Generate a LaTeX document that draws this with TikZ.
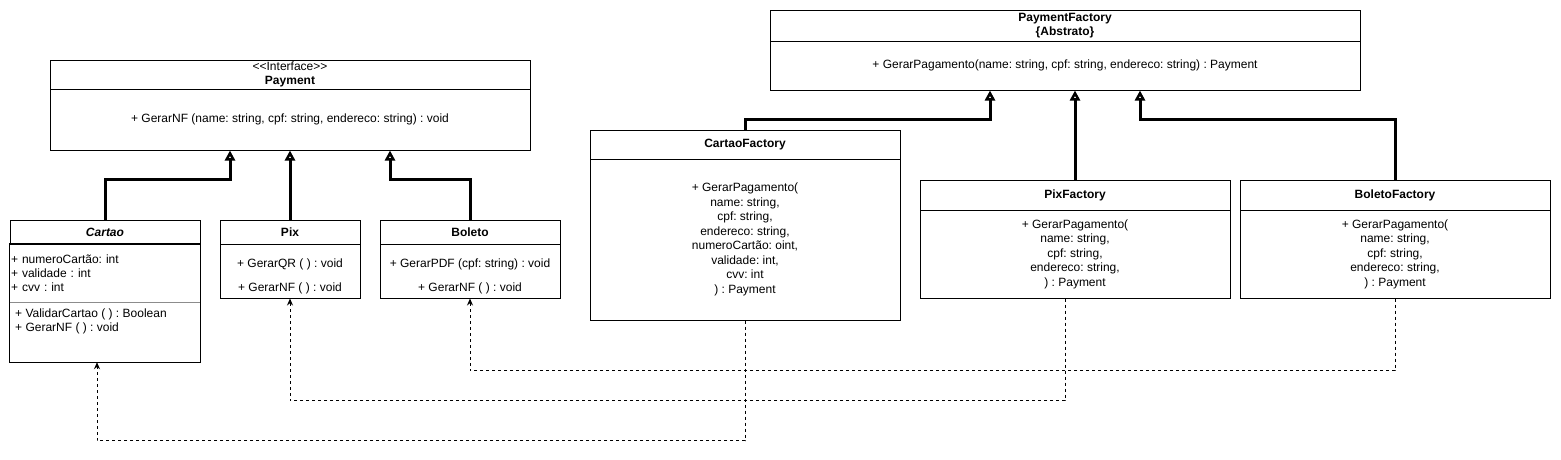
\documentclass[tikz,border=0pt]{standalone}
\usepackage{fontspec}
\setmainfont{Liberation Sans}
\usetikzlibrary{arrows.meta}
\frenchspacing
\definecolor{uml_gray}{RGB}{140, 140, 140}
\tikzstyle{hd}=[rectangle,draw=black,fill=white,line width=1pt,inner sep=0pt,
  align=center,font=\fontsize{12}{14.5}\selectfont\bfseries]
\tikzstyle{bd}=[rectangle,draw=black,fill=white,line width=1pt,inner sep=0pt,
  align=center,font=\fontsize{12}{14.5}\selectfont]
\tikzstyle{txt}=[inner sep=0pt,align=left,font=\fontsize{12}{14}\selectfont]
\tikzstyle{inh}=[line width=3pt,-{Triangle[open,length=10pt,width=10pt]}]
\tikzstyle{dep}=[line width=1pt,dash pattern=on 3pt off 3pt,
  -{Stealth[length=7pt,width=6pt]}]

\begin{document}
\begin{tikzpicture}[x=1pt,y=-1pt]
            \useasboundingbox (0,0) rectangle (1561,459);
            \node [style=hd, minimum width=480pt, minimum height=29pt] (0) at (290, 74.5) {\mdseries<\kern0pt<Interface>\kern0pt>\\Payment};
            \node [style=bd, minimum width=480pt, minimum height=61pt] (1) at (290, 119.5) {+ GerarNF (name: string, cpf: string, endereco: string) : void};
            \node [style=hd, minimum width=190pt, minimum height=24pt] (2) at (105, 232) {\itshape Cartao};
            \node [style=txt, minimum width=190pt, minimum height=58pt, text width=188pt] (3) at (105, 273) {+ numeroCartão: int\\+ validade : int\\+ cvv : int};
            \node [style=txt, minimum width=190pt, minimum height=60pt] (4) at (105, 332) {};
            \node [style=txt, anchor=north west] (5) at (15, 309) {+ ValidarCartao ( ) : Boolean\\+ GerarNF ( ) : void};
            \node [style=hd, minimum width=140pt, minimum height=24pt] (6) at (290, 232) {Pix};
            \node [style=bd, minimum width=140pt, minimum height=54pt] (7) at (290, 271) {};
            \node [style=txt] (8) at (290, 264) {+ GerarQR ( ) : void};
            \node [style=txt] (9) at (290, 288) {+ GerarNF ( ) : void};
            \node [style=hd, minimum width=180pt, minimum height=24pt] (10) at (470, 232) {Boleto};
            \node [style=bd, minimum width=180pt, minimum height=54pt] (11) at (470, 271) {};
            \node [style=txt] (12) at (470, 264) {+ GerarPDF (cpf: string) : void};
            \node [style=txt] (13) at (470, 288) {+ GerarNF ( ) : void};
            \node [style=hd, minimum width=590pt, minimum height=31pt] (14) at (1065, 25.5) {PaymentFactory\\\{Abstrato\}};
            \node [style=bd, minimum width=590pt, minimum height=49pt] (15) at (1065, 65.5) {+ GerarPagamento(name: string, cpf: string, endereco: string) : Payment};
            \node [style=hd, minimum width=310pt, minimum height=29pt] (16) at (745, 144.5) {CartaoFactory};
            \node [style=bd, minimum width=310pt, minimum height=161pt] (17) at (745, 239.5) {+ GerarPagamento(\\name: string,\\cpf: string,\\endereco: string,\\numeroCartão: oint,\\validade: int,\\cvv: int\\) : Payment};
            \node [style=hd, minimum width=310pt, minimum height=30pt] (18) at (1075, 195) {PixFactory};
            \node [style=bd, minimum width=310pt, minimum height=88pt] (19) at (1075, 254) {+ GerarPagamento(\\name: string,\\cpf: string,\\endereco: string,\\) : Payment};
            \node [style=hd, minimum width=310pt, minimum height=30pt] (20) at (1395, 195) {BoletoFactory};
            \node [style=bd, minimum width=310pt, minimum height=88pt] (21) at (1395, 254) {+ GerarPagamento(\\name: string,\\cpf: string,\\endereco: string,\\) : Payment};
            \draw [line width=1pt] (3.north west) rectangle (4.south east);
            \draw [line width=1pt, uml_gray] (3.south west) to (3.south east);
            \draw [style=inh] (2.north) -- ++(0,-40) -| ([xshift=-60pt]1.south);
            \draw [style=inh] (6.north) to (1.south);
            \draw [style=inh] (10.north) -- ++(0,-40) -| ([xshift=100pt]1.south);
            \draw [style=inh] (16.north) -- ++(0,-10) -| ([xshift=-75pt]15.south);
            \draw [style=inh] (18.north) to ([xshift=10pt]15.south);
            \draw [style=inh] (20.north) -- ++(0,-60) -| ([xshift=75pt]15.south);
            \draw [style=dep] (17.south) -- ++(0,120) -| ([xshift=-8pt]4.south);
            \draw [style=dep] ([xshift=-10pt]19.south) -- ++(0,102) -| (7.south);
            \draw [style=dep] (21.south) -- ++(0,72) -| (11.south);
    \end{tikzpicture}
\end{document}
